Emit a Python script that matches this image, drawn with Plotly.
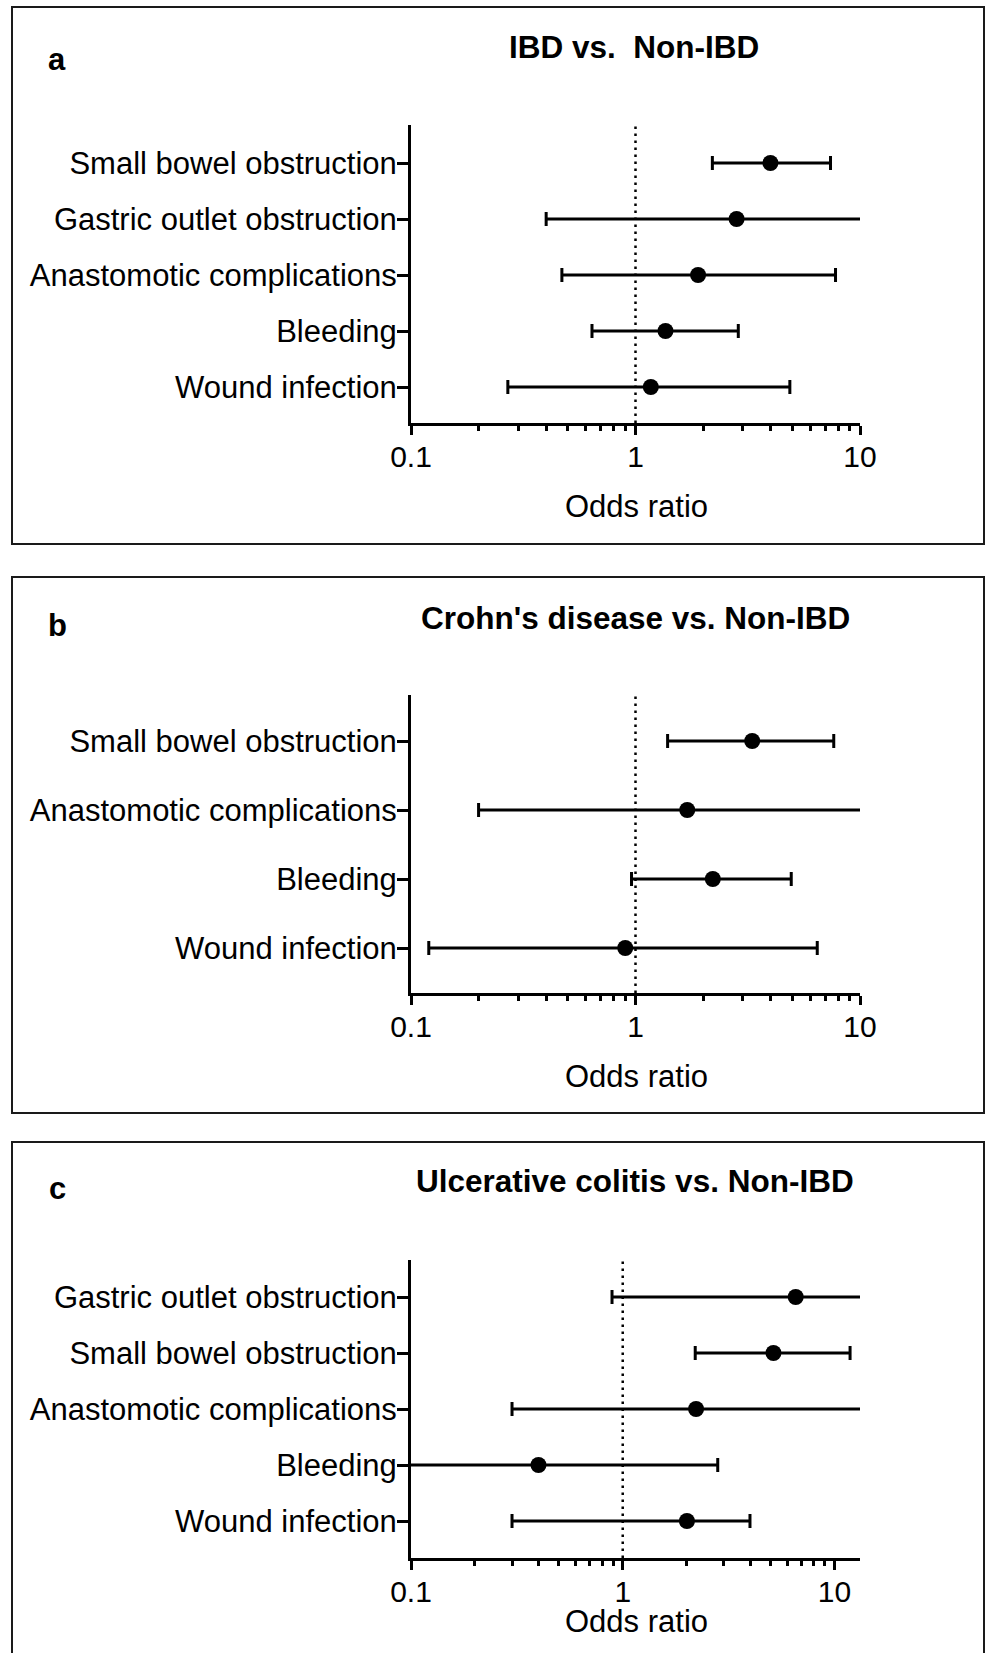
import plotly.graph_objects as go

# ---------------- data (odds ratios with 95% CI) ----------------
cats_a = ["Small bowel obstruction", "Gastric outlet obstruction",
          "Anastomotic complications", "Bleeding", "Wound infection"]
or_a = [3.99, 2.82, 1.90, 1.36, 1.17]
lo_a = [2.20, 0.40, 0.47, 0.64, 0.27]
hi_a = [7.39, 11.0, 7.78, 2.87, 4.87]

cats_b = ["Small bowel obstruction", "Anastomotic complications",
          "Bleeding", "Wound infection"]
or_b = [3.31, 1.70, 2.21, 0.90]
lo_b = [1.39, 0.20, 0.96, 0.12]
hi_b = [7.64, 11.0, 4.94, 6.45]

cats_c = ["Gastric outlet obstruction", "Small bowel obstruction",
          "Anastomotic complications", "Bleeding", "Wound infection"]
or_c = [6.56, 5.15, 2.22, 0.40, 2.01]
lo_c = [0.89, 2.20, 0.30, 0.09, 0.30]
hi_c = [16.0, 11.85, 16.0, 2.81, 3.99]

titles = ["IBD vs.&nbsp; Non-IBD", "Crohn's disease vs. Non-IBD",
          "Ulcerative colitis vs. Non-IBD"]
letters = ["a", "b", "c"]
x_major = [0.1, 1, 10]
x_major_text = ["0.1", "1", "10"]
x_minor = [0.2, 0.3, 0.4, 0.5, 0.6, 0.7, 0.8, 0.9, 2, 3, 4, 5, 6, 7, 8, 9]
xlabel = "Odds ratio"

# ---------------- layout geometry (pixels) ----------------
W, H = 986, 1653
FONT = "Liberation Sans, Arial, Helvetica, sans-serif"


def fx(p):
    return p / W


def fy(p):
    return 1 - p / H


panels = [
    dict(cats=cats_a, orv=or_a, lo=lo_a, hi=hi_a,
         x0=411, x1=860, ytop=125, ybot=423, row0=387, step=56,
         xrange=[-1, 1],
         box=(12, 7, 984, 544), letter=(57, 60), title=(634, 47), xlab=636, xlab_y=506),
    dict(cats=cats_b, orv=or_b, lo=lo_b, hi=hi_b,
         x0=411, x1=860, ytop=695, ybot=993, row0=948, step=69,
         xrange=[-1, 1],
         box=(12, 577, 984, 1113), letter=(57, 625), title=(635, 618), xlab=636, xlab_y=1076),
    dict(cats=cats_c, orv=or_c, lo=lo_c, hi=hi_c,
         x0=411, x1=860, ytop=1260, ybot=1558, row0=1521, step=56,
         xrange=[-1, 1.1206],
         box=(12, 1142, 984, 1670), letter=(57, 1188), title=(635, 1181), xlab=636, xlab_y=1621),
]

fig = go.Figure()
layout = dict(
    template="none",
    width=W, height=H, autosize=False,
    margin=dict(l=0, r=0, t=0, b=0, pad=0, autoexpand=False),
    paper_bgcolor="white", plot_bgcolor="rgba(0,0,0,0)",
    showlegend=False,
    font=dict(family=FONT, size=31, color="black"),
    shapes=[], annotations=[],
)

for i, p in enumerate(panels):
    k = "" if i == 0 else str(i + 1)
    xa, ya = "x" + k, "y" + k
    n = len(p["cats"])
    ypos = [n - 1 - j for j in range(n)]
    plus = [h - o for h, o in zip(p["hi"], p["orv"])]
    minus = [o - l for o, l in zip(p["orv"], p["lo"])]
    fig.add_trace(go.Scatter(
        x=p["orv"], y=ypos, xaxis=xa, yaxis=ya, mode="markers",
        marker=dict(symbol="circle", size=16, color="black", line=dict(width=0)),
        error_x=dict(type="data", symmetric=False, array=plus, arrayminus=minus,
                     color="black", thickness=3, width=7),
        hoverinfo="skip",
    ))
    y_lo = -(p["ybot"] - p["row0"]) / p["step"]
    y_hi = (p["row0"] - p["ytop"]) / p["step"]
    layout["xaxis" + k] = dict(
        type="log", range=p["xrange"], domain=[fx(p["x0"]), fx(p["x1"])],
        anchor=ya, showgrid=False, zeroline=False, automargin=False,
        showline=True, linecolor="black", linewidth=3,
        tickmode="array", tickvals=x_major, ticktext=x_major_text,
        ticks="outside", ticklen=9, tickwidth=2.5, tickcolor="black",
        ticklabelstandoff=-4,
        tickfont=dict(family=FONT, size=30, color="black"),
        minor=dict(tickmode="array", tickvals=x_minor, ticks="outside",
                   ticklen=5, tickwidth=2.5, tickcolor="black", showgrid=False),
        fixedrange=True,
    )
    layout["yaxis" + k] = dict(
        range=[y_lo, y_hi], domain=[fy(p["ybot"]), fy(p["ytop"])],
        anchor=xa, showgrid=False, zeroline=False, automargin=False,
        showline=True, linecolor="black", linewidth=3,
        tickmode="array", tickvals=ypos, ticktext=p["cats"],
        ticks="outside", ticklen=11, tickwidth=2.5, tickcolor="black",
        ticklabelstandoff=-6,
        tickfont=dict(family=FONT, size=31, color="black"),
        fixedrange=True,
    )
    # reference line at OR = 1
    layout["shapes"].append(dict(
        type="line", xref=xa, yref=ya + " domain", x0=1, x1=1, y0=0, y1=1,
        line=dict(color="black", width=2.5, dash="2.5px,4.5px"), layer="below",
    ))
    # panel frame
    bx0, by0, bx1, by1 = p["box"]
    layout["shapes"].append(dict(
        type="rect", xref="paper", yref="paper",
        x0=fx(bx0), x1=fx(bx1), y0=fy(by1), y1=fy(by0),
        line=dict(color="#1a1a1a", width=2), fillcolor="rgba(0,0,0,0)", layer="below",
    ))
    # texts
    layout["annotations"].append(dict(
        text="<b>" + letters[i] + "</b>", xref="paper", yref="paper",
        x=fx(p["letter"][0]), y=fy(p["letter"][1]), xanchor="center", yanchor="middle",
        showarrow=False, font=dict(family=FONT, size=31, color="black"),
    ))
    layout["annotations"].append(dict(
        text="<b>" + titles[i] + "</b>", xref="paper", yref="paper",
        x=fx(p["title"][0]), y=fy(p["title"][1]), xanchor="center", yanchor="middle",
        showarrow=False, font=dict(family=FONT, size=31.5, color="black"),
    ))
    layout["annotations"].append(dict(
        text=xlabel, xref="paper", yref="paper",
        x=fx(p["xlab"]), y=fy(p["xlab_y"]), xanchor="center", yanchor="middle",
        showarrow=False, font=dict(family=FONT, size=31, color="black"),
    ))

fig.update_layout(**layout)
fig.write_html("out.html", config={"displayModeBar": False, "responsive": False},
               post_script="document.body.style.margin='0';document.body.style.overflow='hidden';")
